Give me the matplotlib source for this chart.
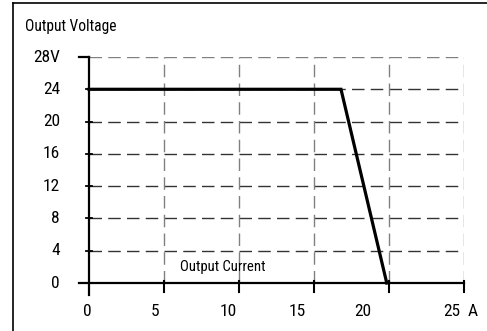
import matplotlib
matplotlib.use('Agg')
import matplotlib.pyplot as plt
import matplotlib.transforms as mtransforms

plt.rcParams['font.family'] = ['Roboto Condensed', 'Liberation Sans Narrow',
                               'Roboto', 'DejaVu Sans']

# ── Data ──────────────────────────────────────────────────────────────────────
current = [0, 16.8, 19.85]          # A
voltage = [24, 24, 0]               # V
x_ticks = [0, 5, 10, 15, 20, 25]
x_labels = ['0', '5', '10', '15', '20', '25']
y_ticks = [0, 4, 8, 12, 16, 20, 24, 28]
y_labels = ['0', '4', '8', '12', '16', '20', '24', '28V']

# the x labels in the source sit slightly left of their ticks (px)
X_LABEL_SHIFT = [-2, -9, -11, -17, -26, -12]

H_GRID = '#333333'
V_GRID = '#808080'
NUM_SIZE = 12.5
TXT_SIZE = 11.2

fig = plt.figure(figsize=(4.87, 3.31), dpi=100)
ax = fig.add_axes([89 / 487, 1 - 283 / 331, 375 / 487, 226 / 331])
ax.set_xlim(0, 25)
ax.set_ylim(0, 28)
for s in ax.spines.values():
    s.set_visible(False)
ax.set_xticks([])
ax.set_yticks([])

# ── Grid ──────────────────────────────────────────────────────────────────────
for y in y_ticks[1:]:
    ax.axhline(y, color=V_GRID if y == 28 else H_GRID, lw=1.0,
               dashes=(9, 4.5), zorder=1)
for x in x_ticks[1:]:
    ax.axvline(x, color=V_GRID, lw=1.0, dashes=(9, 4.5), zorder=1)

# ── Axes lines with crossing ticks ───────────────────────────────────────────
xpad = 10 * 25 / 375          # 10 px in data units
ypad = 12 * 28 / 226
ax.plot([-xpad, 25], [0, 0], color='black', lw=1.6, clip_on=False, zorder=3)
ax.plot([0, 0], [-ypad, 28], color='black', lw=1.6, clip_on=False, zorder=3)
ax.plot([-xpad, 0], [28, 28], color='black', lw=1.6, clip_on=False, zorder=3)

tk = 3 * 25 / 375
for y in y_ticks[1:-1]:
    ax.plot([-tk, tk], [y, y], color='black', lw=1.3, clip_on=False, zorder=3)
tk_down = 9 * 28 / 226
tk_up = 2 * 28 / 226
for x in x_ticks[1:]:
    ax.plot([x, x], [-tk_down, tk_up], color='black', lw=1.5,
            clip_on=False, zorder=3)

# ── Tick labels ───────────────────────────────────────────────────────────────
for y, lab in zip(y_ticks, y_labels):
    off = mtransforms.offset_copy(ax.transData, fig=fig, x=-29 * 0.72, y=0,
                                  units='points')
    ax.text(0, y, lab, transform=off, ha='right', va='center',
            fontsize=NUM_SIZE)
for x, lab, dx in zip(x_ticks, x_labels, X_LABEL_SHIFT):
    off = mtransforms.offset_copy(ax.transData, fig=fig, x=dx * 0.72,
                                  y=-28 * 0.72, units='points')
    ax.text(x, 0, lab, transform=off, ha='center', va='center',
            fontsize=NUM_SIZE)
ax.text(473 / 487, 1 - 311 / 331, 'A', transform=fig.transFigure,
        ha='center', va='center', fontsize=NUM_SIZE)

# ── Curve ─────────────────────────────────────────────────────────────────────
ax.plot(current, voltage, color='black', lw=2.3, solid_joinstyle='miter',
        zorder=4, clip_on=False)

# ── Labels ────────────────────────────────────────────────────────────────────
fig.text(25 / 487, 1 - 27 / 331, 'Output Voltage', ha='left', va='center',
         fontsize=TXT_SIZE)
ax.text(8.9, 1.95, 'Output Current', ha='center', va='center',
        fontsize=TXT_SIZE * 0.95)

# ── Frame (only top and left edges visible in the source) ───────────────────
fig.add_artist(plt.Line2D([12.5 / 487, 12.5 / 487], [0, 1 - 3 / 331],
                          transform=fig.transFigure, color='black', lw=1.2))
fig.add_artist(plt.Line2D([12.5 / 487, 1], [1 - 3 / 331, 1 - 3 / 331],
                          transform=fig.transFigure, color='black', lw=1.2))

fig.savefig('out.png', dpi=100)
